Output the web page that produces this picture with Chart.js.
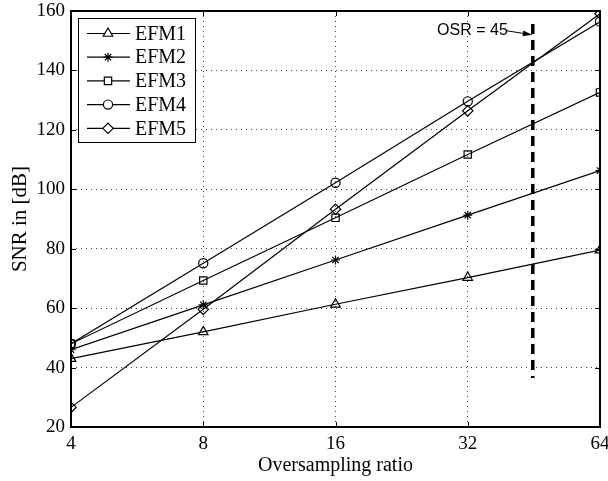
<!DOCTYPE html>
<html>
<head>
<meta charset="utf-8">
<script src="https://cdn.jsdelivr.net/npm/chart.js@4.4.0/dist/chart.umd.min.js"></script>
<style>
  html, body { margin: 0; padding: 0; background: #fff; }
  #wrap { width: 608px; height: 481px; }
</style>
</head>
<body>
<div id="wrap"><canvas id="chart" width="608" height="481"></canvas></div>
<script>
// oversampling ratios on the x axis
const ratios = [4, 8, 16, 32, 64];

// SNR in dB for each modulator
const efm1 = [43, 52, 61.3, 70.3, 79.5];
const efm2 = [46, 61.1, 76.2, 91.3, 106.3];
const efm3 = [48, 69.3, 90.4, 111.7, 132.6];
const efm4 = [48, 75.1, 102.2, 129.6, 156.4];
const efm5 = [26.6, 59.6, 93.3, 126.4, 159.1];

const seriesNames = ['EFM1', 'EFM2', 'EFM3', 'EFM4', 'EFM5'];
const markers = ['triangle', 'star', 'rect', 'circle', 'rectRot'];
const markerSizes = [5.5, 4.5, 5.2, 4.6, 5.2];

const yTicks = [20, 40, 60, 80, 100, 120, 140, 160];

// marker line for the chosen OSR (drawn top to bottom)
const osr = 45;
const osrLineY = [155.6, 36.5];
const osrLabel = 'OSR = 45';

const SERIF = "'Liberation Serif', 'Times New Roman', serif";
const SANS = "'Liberation Sans', Arial, sans-serif";

const allSeries = [efm1, efm2, efm3, efm4, efm5];

const datasets = allSeries.map((vals, i) => ({
  label: seriesNames[i],
  data: ratios.map((r, j) => ({ x: r, y: vals[j] })),
  borderColor: '#000',
  borderWidth: 1.2,
  pointStyle: markers[i],
  pointRadius: markerSizes[i],
  pointBorderColor: '#000',
  pointBackgroundColor: 'rgba(0,0,0,0)',
  pointBorderWidth: 1.2,
  tension: 0,
}));

datasets.push({
  label: 'osr',
  data: osrLineY.map((y) => ({ x: osr, y: y })),
  borderColor: '#000',
  borderWidth: 3.5,
  borderDash: [10, 6],
  pointRadius: 0,
  tension: 0,
});

// box round the plot with small inward ticks
const framePlugin = {
  id: 'frame',
  afterDatasetsDraw(chart) {
    const { ctx, chartArea: a, scales } = chart;
    ctx.save();
    ctx.strokeStyle = '#000';
    ctx.lineWidth = 1;
    ctx.beginPath();
    scales.x.ticks.forEach((t) => {
      const px = Math.round(scales.x.getPixelForValue(t.value)) + 0.5;
      ctx.moveTo(px, a.bottom); ctx.lineTo(px, a.bottom - 5);
      ctx.moveTo(px, a.top); ctx.lineTo(px, a.top + 5);
    });
    scales.y.ticks.forEach((t) => {
      const py = Math.round(scales.y.getPixelForValue(t.value)) + 0.5;
      ctx.moveTo(a.left, py); ctx.lineTo(a.left + 5, py);
      ctx.moveTo(a.right, py); ctx.lineTo(a.right - 5, py);
    });
    ctx.stroke();
    ctx.lineWidth = 2;
    ctx.strokeRect(a.left, a.top, a.right - a.left, a.bottom - a.top);
    ctx.restore();
  },
};

// arrow and text next to the OSR line
const osrNotePlugin = {
  id: 'osrNote',
  afterDatasetsDraw(chart) {
    const { ctx, scales } = chart;
    const tipX = scales.x.getPixelForValue(osr) - 1;
    const tipY = scales.y.getPixelForValue(152);
    const tailX = tipX - 25;
    const tailY = tipY - 4;
    ctx.save();
    ctx.strokeStyle = '#000';
    ctx.fillStyle = '#000';
    ctx.lineWidth = 1;
    ctx.beginPath();
    ctx.moveTo(tailX, tailY);
    ctx.lineTo(tipX, tipY);
    ctx.stroke();
    const ang = Math.atan2(tipY - tailY, tipX - tailX);
    ctx.beginPath();
    ctx.moveTo(tipX, tipY);
    ctx.lineTo(tipX - 9 * Math.cos(ang) + 3 * Math.sin(ang), tipY - 9 * Math.sin(ang) - 3 * Math.cos(ang));
    ctx.lineTo(tipX - 9 * Math.cos(ang) - 3 * Math.sin(ang), tipY - 9 * Math.sin(ang) + 3 * Math.cos(ang));
    ctx.closePath();
    ctx.fill();
    ctx.font = '16px ' + SANS;
    ctx.textAlign = 'right';
    ctx.textBaseline = 'middle';
    ctx.fillText(osrLabel, tailX + 1, tailY);
    ctx.restore();
  },
};

// legend box inside the plot, top left
const legendPlugin = {
  id: 'boxLegend',
  afterDraw(chart) {
    const { ctx } = chart;
    const drawPoint = Chart.helpers && Chart.helpers.drawPoint;
    const x0 = 78.5, y0 = 18.5, w = 117, h = 124;
    ctx.save();
    ctx.fillStyle = '#fff';
    ctx.fillRect(x0, y0, w, h);
    ctx.strokeStyle = '#000';
    ctx.lineWidth = 1;
    ctx.strokeRect(x0, y0, w, h);
    ctx.font = '20px ' + SERIF;
    ctx.textBaseline = 'middle';
    ctx.textAlign = 'left';
    seriesNames.forEach((name, i) => {
      const y = 33.5 + i * 23.7;
      ctx.strokeStyle = '#000';
      ctx.lineWidth = 1.2;
      ctx.beginPath();
      ctx.moveTo(87, y);
      ctx.lineTo(130, y);
      ctx.stroke();
      if (drawPoint) {
        ctx.fillStyle = '#fff';
        drawPoint(ctx, { pointStyle: markers[i], radius: markerSizes[i], rotation: 0, borderWidth: 1.2 }, 108, y);
      }
      ctx.fillStyle = '#000';
      ctx.fillText(name, 135, y + 1);
    });
    ctx.restore();
  },
};

const gridStyle = {
  color: 'rgba(0,0,0,0.75)',
  lineWidth: 1,
  drawTicks: false,
  borderDash: [1, 4],
};

new Chart(document.getElementById('chart'), {
  type: 'line',
  data: { datasets: datasets },
  options: {
    responsive: false,
    animation: false,
    events: [],
    devicePixelRatio: 1,
    layout: { padding: { left: 0, right: 8, top: 11, bottom: 0 } },
    plugins: {
      legend: { display: false },
      tooltip: { enabled: false },
    },
    scales: {
      x: {
        type: 'logarithmic',
        min: 4,
        max: 64,
        afterBuildTicks: (s) => { s.ticks = ratios.map((v) => ({ value: v })); },
        afterFit: (s) => { s.height = 54; s.paddingLeft = 0; s.paddingRight = 0; },
        ticks: {
          callback: (v) => String(v),
          autoSkip: false,
          maxRotation: 0,
          padding: 6,
          color: '#000',
          font: { family: SERIF, size: 19 },
        },
        grid: gridStyle,
        border: { display: false, dash: [1, 4] },
        title: {
          display: true,
          text: 'Oversampling ratio',
          color: '#000',
          font: { family: SERIF, size: 20 },
          padding: { top: 0, bottom: 3 },
        },
      },
      y: {
        type: 'linear',
        min: 20,
        max: 160,
        afterBuildTicks: (s) => { s.ticks = yTicks.map((v) => ({ value: v })); },
        afterFit: (s) => { s.width = 71; s.paddingTop = 0; s.paddingBottom = 0; },
        ticks: {
          padding: 6,
          color: '#000',
          font: { family: SERIF, size: 19 },
        },
        grid: gridStyle,
        border: { display: false, dash: [1, 4] },
        title: {
          display: true,
          text: 'SNR in [dB]',
          color: '#000',
          font: { family: SERIF, size: 21 },
          padding: { top: 8, bottom: 0 },
        },
      },
    },
  },
  plugins: [framePlugin, osrNotePlugin, legendPlugin],
});
</script>
</body>
</html>
